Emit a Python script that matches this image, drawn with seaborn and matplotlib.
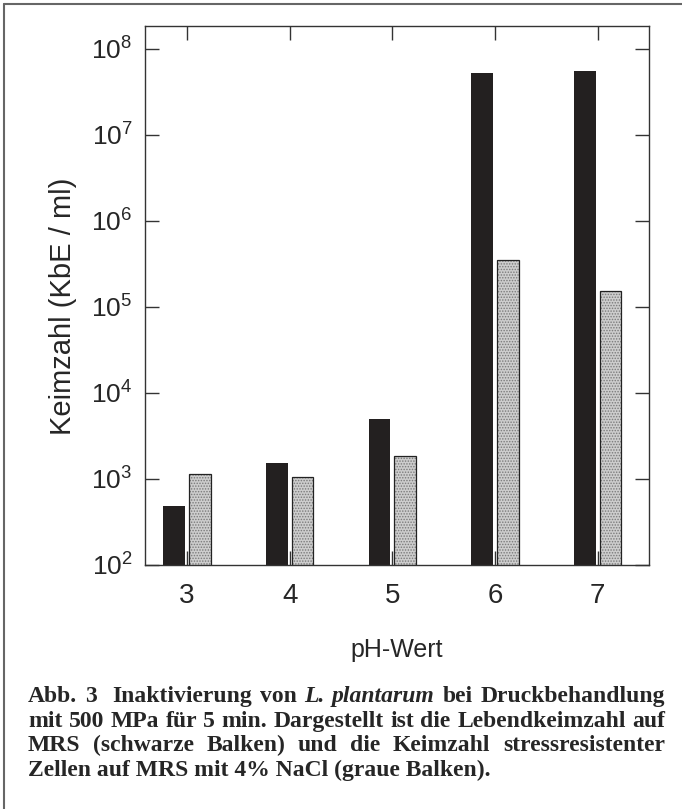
import matplotlib
matplotlib.use('Agg')
import numpy as np
import pandas as pd
import matplotlib.pyplot as plt
import seaborn as sns
from matplotlib.lines import Line2D
from matplotlib.patches import Rectangle
from matplotlib.ticker import NullLocator

# data (KbE / ml, log axis)
ph_values = ['3', '4', '5', '6', '7']
mrs_counts = [485, 1540, 5000, 5.3e7, 5.5e7]          # schwarze Balken
nacl_counts = [1140, 1060, 1850, 3.5e5, 1.53e5]       # graue Balken
series_names = ['MRS', 'MRS mit 4% NaCl']
y_ticks = [1e2, 1e3, 1e4, 1e5, 1e6, 1e7, 1e8]

caption_lines = [
    'Abb.  3  Inaktivierung von L. plantarum bei Druckbehandlung',
    'mit 500 MPa für 5 min. Dargestellt ist die Lebendkeimzahl auf',
    'MRS (schwarze Balken) und die Keimzahl stressresistenter',
    'Zellen auf MRS mit 4% NaCl (graue Balken).',
]
italic_words = ['L.', 'plantarum']

sns.set_style('white')
plt.rcParams['font.family'] = ['Liberation Sans', 'DejaVu Sans']
plt.rcParams['mathtext.default'] = 'regular'
plt.rcParams['hatch.linewidth'] = 0.7

W, H = 682, 809
fig = plt.figure(figsize=(W / 100, H / 100), dpi=100)
ax = fig.add_axes([145 / W, 1 - 565 / H, 504 / W, 539 / H])

df = pd.DataFrame({
    'pH': ph_values * 2,
    'count': mrs_counts + nacl_counts,
    'medium': [series_names[0]] * len(ph_values) + [series_names[1]] * len(ph_values),
})

ax.set_yscale('log')
sns.barplot(data=df, x='pH', y='count', hue='medium', hue_order=series_names,
            palette=['#231f20', '#cdcdcd'], width=0.5, gap=0.16,
            linewidth=0, legend=False, ax=ax)

# stippled grey bars with a dark outline
for bar in ax.containers[1]:
    bar.set_hatch('......')
    bar.set_edgecolor('#7a7a7a')
    bar.set_linewidth(0)
    ax.add_patch(Rectangle(bar.get_xy(), bar.get_width(), bar.get_height(),
                           fill=False, ec='#222222', lw=0.9, zorder=bar.get_zorder() + 0.1))

ax.set_ylim(1e2, 10 ** 8.267)
ax.set_xlim(-0.41, 4.5)
ax.set_yticks(y_ticks)
ax.yaxis.set_minor_locator(NullLocator())

for spine in ax.spines.values():
    spine.set_color('#333333')
    spine.set_linewidth(1.0)

ax.tick_params(axis='both', which='major', direction='in', length=10, width=1,
               color='#333333', top=True, right=True, bottom=True, left=True)
ax.tick_params(axis='x', labelsize=20, pad=13)
ax.tick_params(axis='y', labelsize=19, pad=9)

ax.set_xlabel('pH-Wert', fontsize=18)
ax.xaxis.set_label_coords(0.5, -0.136)
ax.xaxis.label.set_va('top')
ax.set_ylabel('Keimzahl (KbE / ml)', fontsize=21)
ax.yaxis.set_label_coords(-0.135, 0.48)

# frame around the figure (cut off on the right and bottom)
fig.add_artist(Line2D([4 / W, 1], [1 - 4 / H, 1 - 4 / H], color='#666666', lw=1.5))
fig.add_artist(Line2D([4 / W, 4 / W], [1 - 4 / H, 0], color='#666666', lw=1.5))

# justified caption in bold serif
renderer = fig.canvas.get_renderer()
cap_left, cap_right = 28, 665
base0, line_gap = 702, 24.6
cap_font = dict(family='Liberation Serif', weight='bold', size=17)
for i, line in enumerate(caption_lines):
    y = 1 - (base0 + i * line_gap) / H
    if i == len(caption_lines) - 1:
        fig.text(cap_left / W, y, line, ha='left', va='baseline', **cap_font)
        continue
    words = line.split()
    texts = []
    for w in words:
        style = 'italic' if w in italic_words else 'normal'
        texts.append(fig.text(0, y, w, ha='left', va='baseline', style=style, **cap_font))
    widths = [t.get_window_extent(renderer).width for t in texts]
    # wider gap after "3" in the first line
    weights = [2.0 if (i == 0 and w == '3') else 1.0 for w in words[:-1]]
    space = (cap_right - cap_left - sum(widths)) / sum(weights)
    x = cap_left
    for t, wd, k in zip(texts, widths, weights + [0]):
        t.set_x(x / W)
        x += wd + space * k

fig.savefig('out.png', dpi=100)
